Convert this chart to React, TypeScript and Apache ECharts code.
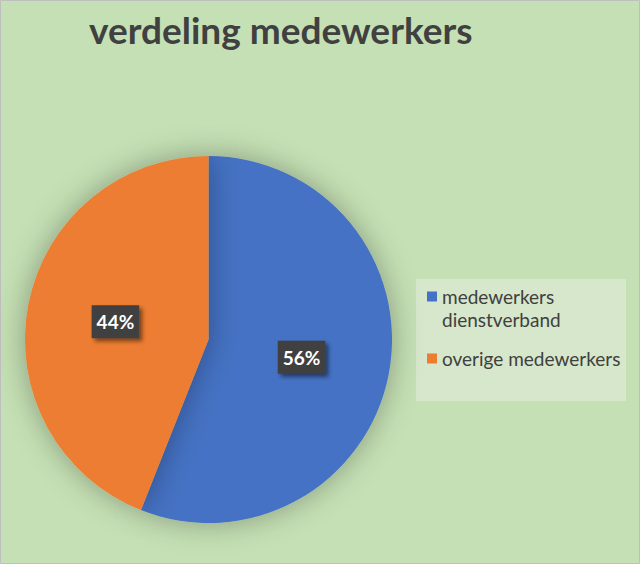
import React, { useEffect, useRef } from "react";
import * as echarts from "echarts";

const categories = ["medewerkers dienstverband", "overige medewerkers"];
const values = [56, 44];
const colors = ["#4472c4", "#ed7d31"];
const titleText = "verdeling medewerkers";

export default function App() {
  const ref = useRef<HTMLDivElement>(null);
  useEffect(() => {
    const chart = echarts.init(ref.current!, null, { renderer: "svg" });
    chart.setOption({
      animation: false,
      backgroundColor: "#c5e0b4",
      title: {
        text: titleText,
        left: 84,
        top: 6,
        textStyle: { fontFamily: "Lato", fontWeight: "bold", fontSize: 37, color: "#404040" },
      },
      graphic: [
        {
          type: "rect",
          shape: { x: 0.5, y: 0.5, width: 639, height: 563 },
          style: { fill: "none", stroke: "#bfbfbf", lineWidth: 1 },
          silent: true,
        },
        {
          type: "rect",
          shape: { x: 416, y: 279, width: 210, height: 122 },
          style: { fill: "#d6e7cb" },
          silent: true,
          z: -1,
        },
      ],
      legend: {
        orient: "vertical",
        left: 427,
        top: 264,
        padding: 0,
        itemGap: 20,
        itemWidth: 10,
        itemHeight: 10,
        icon: "rect",
        data: categories,
        formatter: (name: string) =>
          name === categories[0]
            ? "{e| }\n{a|medewerkers}\n{a|dienstverband}"
            : "{a|" + name + "}",
        textStyle: {
          color: "#404040",
          fontFamily: "Lato",
          fontSize: 19,
          rich: {
            a: { color: "#404040", fontFamily: "Lato", fontSize: 19, lineHeight: 23 },
            e: { fontSize: 19, lineHeight: 23 },
          },
        },
      },
      series: [
        {
          type: "pie",
          center: [208.5, 339.5],
          radius: 183.5,
          startAngle: 90,
          clockwise: true,
          itemStyle: {
            shadowBlur: 30,
            shadowColor: "rgba(0,0,0,0.32)",
          },
          label: {
            show: true,
            position: "inside",
            formatter: "{d}%",
            backgroundColor: "#3f3f3f",
            color: "#ffffff",
            fontFamily: "Lato",
            fontWeight: "bold",
            fontSize: 19,
            padding: [8, 5, 6, 5],
            shadowBlur: 4,
            shadowOffsetX: 3,
            shadowOffsetY: 3,
            shadowColor: "rgba(0,0,0,0.5)",
          },
          labelLine: { show: false },
          data: categories.map((c, i) => ({
            name: c,
            value: values[i],
            itemStyle: { color: colors[i] },
          })),
        },
      ],
    });
    return () => chart.dispose();
  }, []);
  return (
    <div
      ref={ref}
      style={{ position: "fixed", left: 0, top: 0, width: 640, height: 564 }}
    />
  );
}
